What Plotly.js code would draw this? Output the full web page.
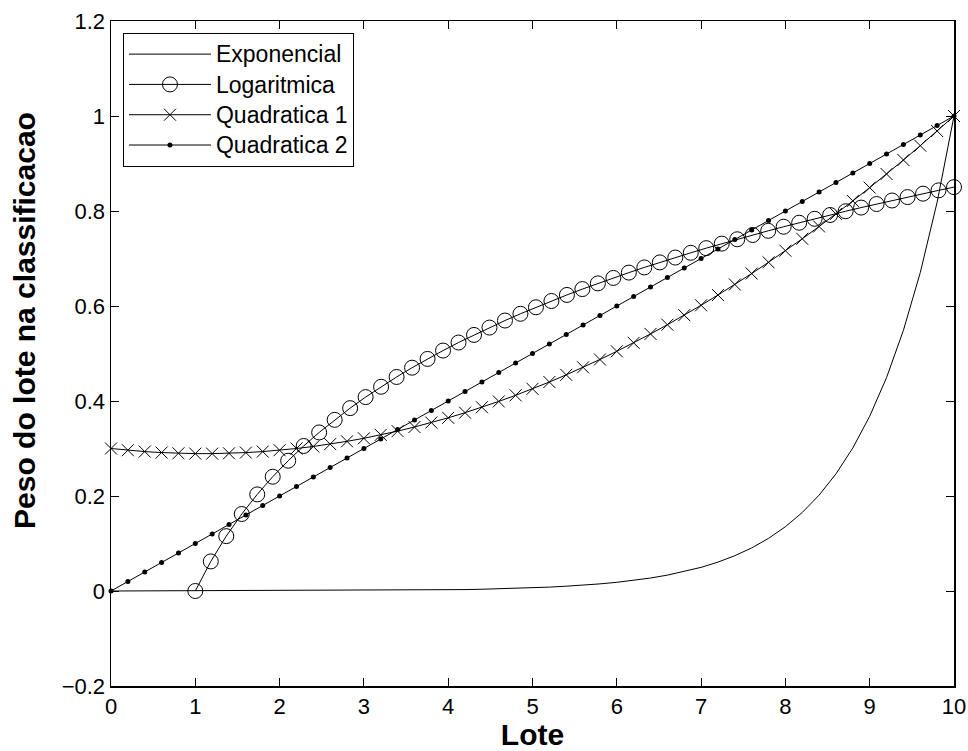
<!DOCTYPE html>
<html>
<head>
<meta charset="utf-8">
<script src="https://cdn.plot.ly/plotly-3.0.1.min.js"></script>
<style>html,body{margin:0;padding:0;background:#fff;}#chart{width:968px;height:751px;}</style>
</head>
<body>
<div id="chart"></div>
<script>
// Series names
const seriesNames = ["Exponencial", "Logaritmica", "Quadratica 1", "Quadratica 2"];

// Common x grid (Lote) for Exponencial, Quadratica 1, Quadratica 2
const xLote = [0,0.2,0.4,0.6,0.8,1,1.2,1.4,1.6,1.8,2,2.2,2.4,2.6,2.8,3,3.2,3.4,3.6,3.8,4,4.2,4.4,4.6,4.8,5,5.2,5.4,5.6,5.8,6,6.2,6.4,6.6,6.8,7,7.2,7.4,7.6,7.8,8,8.2,8.4,8.6,8.8,9,9.2,9.4,9.6,9.8,10];

const yExponencial = [0.0000,0.0001,0.0001,0.0001,0.0001,0.0001,0.0002,0.0002,0.0002,0.0003,0.0003,0.0004,0.0005,0.0006,0.0007,0.0009,0.0011,0.0014,0.0017,0.0020,0.0025,0.0030,0.0037,0.0045,0.0055,0.0067,0.0082,0.0101,0.0123,0.0150,0.0183,0.0224,0.0273,0.0334,0.0408,0.0498,0.0608,0.0743,0.0907,0.1108,0.1353,0.1653,0.2019,0.2466,0.3012,0.3679,0.4493,0.5488,0.6703,0.8187,1.0000];

const xLog = [1,1.1837,1.3673,1.5510,1.7347,1.9184,2.1020,2.2857,2.4694,2.6531,2.8367,3.0204,3.2041,3.3878,3.5714,3.7551,3.9388,4.1224,4.3061,4.4898,4.6735,4.8571,5.0408,5.2245,5.4082,5.5918,5.7755,5.9592,6.1429,6.3265,6.5102,6.6939,6.8776,7.0612,7.2449,7.4286,7.6122,7.7959,7.9796,8.1633,8.3469,8.5306,8.7143,8.8980,9.0816,9.2653,9.4490,9.6327,9.8163,10];
const yLogaritmica = [0,0.0623,0.1155,0.1621,0.2034,0.2406,0.2743,0.3053,0.3338,0.3603,0.3850,0.4082,0.4300,0.4506,0.4701,0.4886,0.5062,0.5231,0.5391,0.5546,0.5694,0.5836,0.5973,0.6105,0.6233,0.6356,0.6476,0.6591,0.6703,0.6812,0.6918,0.7020,0.7120,0.7218,0.7313,0.7405,0.7495,0.7583,0.7669,0.7753,0.7836,0.7916,0.7995,0.8072,0.8147,0.8221,0.8293,0.8365,0.8434,0.8503];

const yQuadratica1 = [0.3000,0.2964,0.2935,0.2914,0.2899,0.2892,0.2892,0.2899,0.2914,0.2935,0.2964,0.3000,0.3043,0.3093,0.3151,0.3215,0.3287,0.3366,0.3452,0.3546,0.3646,0.3754,0.3869,0.3991,0.4120,0.4256,0.4400,0.4551,0.4709,0.4874,0.5046,0.5225,0.5412,0.5606,0.5807,0.6015,0.6231,0.6453,0.6683,0.6920,0.7164,0.7415,0.7674,0.7939,0.8212,0.8492,0.8779,0.9073,0.9375,0.9684,1.0000];

const yQuadratica2 = [0,0.02,0.04,0.06,0.08,0.10,0.12,0.14,0.16,0.18,0.20,0.22,0.24,0.26,0.28,0.30,0.32,0.34,0.36,0.38,0.40,0.42,0.44,0.46,0.48,0.50,0.52,0.54,0.56,0.58,0.60,0.62,0.64,0.66,0.68,0.70,0.72,0.74,0.76,0.78,0.80,0.82,0.84,0.86,0.88,0.90,0.92,0.94,0.96,0.98,1.00];

// Tick labels
const xTicks = [0,1,2,3,4,5,6,7,8,9,10];
const yTicks = [-0.2,0,0.2,0.4,0.6,0.8,1,1.2];
const xTitle = "Lote";
const yTitle = "Peso do lote na classificacao";

const FONT = "'Liberation Sans', Arial, Helvetica, sans-serif";
const lineStyle = {color: "#000", width: 1};
// legend label: slightly larger glyphs than the row spacing font
const legendLabel = n => '<span style="font-size:23px">' + n + '</span>';

const traces = [
  {x: xLote, y: yExponencial, name: legendLabel(seriesNames[0]), mode: "lines", line: lineStyle, cliponaxis: false},
  {x: xLog, y: yLogaritmica, name: legendLabel(seriesNames[1]), mode: "lines+markers", line: lineStyle,
   marker: {symbol: "circle-open", size: 15, color: "#000", line: {width: 1, color: "#000"}}, cliponaxis: false},
  {x: xLote, y: yQuadratica1, name: legendLabel(seriesNames[2]), mode: "lines+markers", line: lineStyle,
   marker: {symbol: "x-thin-open", size: 12, color: "#000", line: {width: 1, color: "#000"}}, cliponaxis: false},
  {x: xLote, y: yQuadratica2, name: legendLabel(seriesNames[3]), mode: "lines+markers", line: lineStyle,
   marker: {symbol: "circle", size: 5, color: "#000"}, cliponaxis: false}
];

const axisCommon = {
  showgrid: false, zeroline: false, showline: true, linecolor: "#000", linewidth: 1.5,
  mirror: "allticks", ticks: "inside", ticklen: 8, tickwidth: 1, tickcolor: "#000",
  tickfont: {family: FONT, size: 22, color: "#000"}
};

const layout = {
  width: 968, height: 751,
  margin: {l: 111, r: 14, t: 21, b: 65},
  paper_bgcolor: "#fff", plot_bgcolor: "#fff",
  font: {family: FONT, color: "#000"},
  xaxis: Object.assign({}, axisCommon, {
    range: [0, 10], tickmode: "array", tickvals: xTicks,
    title: {text: xTitle, font: {family: FONT, size: 30, weight: "bold", color: "#000"}, standoff: 6}
  }),
  yaxis: Object.assign({}, axisCommon, {
    range: [-0.2, 1.2], tickmode: "array", tickvals: yTicks
  }),
  showlegend: true,
  legend: {
    x: 0.0142, y: 0.982, xanchor: "left", yanchor: "top",
    bgcolor: "#fff", bordercolor: "#000", borderwidth: 1,
    font: {family: FONT, size: 21, color: "#000"},
    itemwidth: 82, tracegroupgap: 0
  },
  annotations: [{
    text: yTitle, xref: "paper", yref: "paper", x: -0.102, y: 0.549,
    xanchor: "center", yanchor: "middle", textangle: -90, showarrow: false,
    font: {family: FONT, size: 30, weight: "bold", color: "#000"}
  }]
};

Plotly.newPlot("chart", traces, layout, {displayModeBar: false, staticPlot: true});
</script>
</body>
</html>
